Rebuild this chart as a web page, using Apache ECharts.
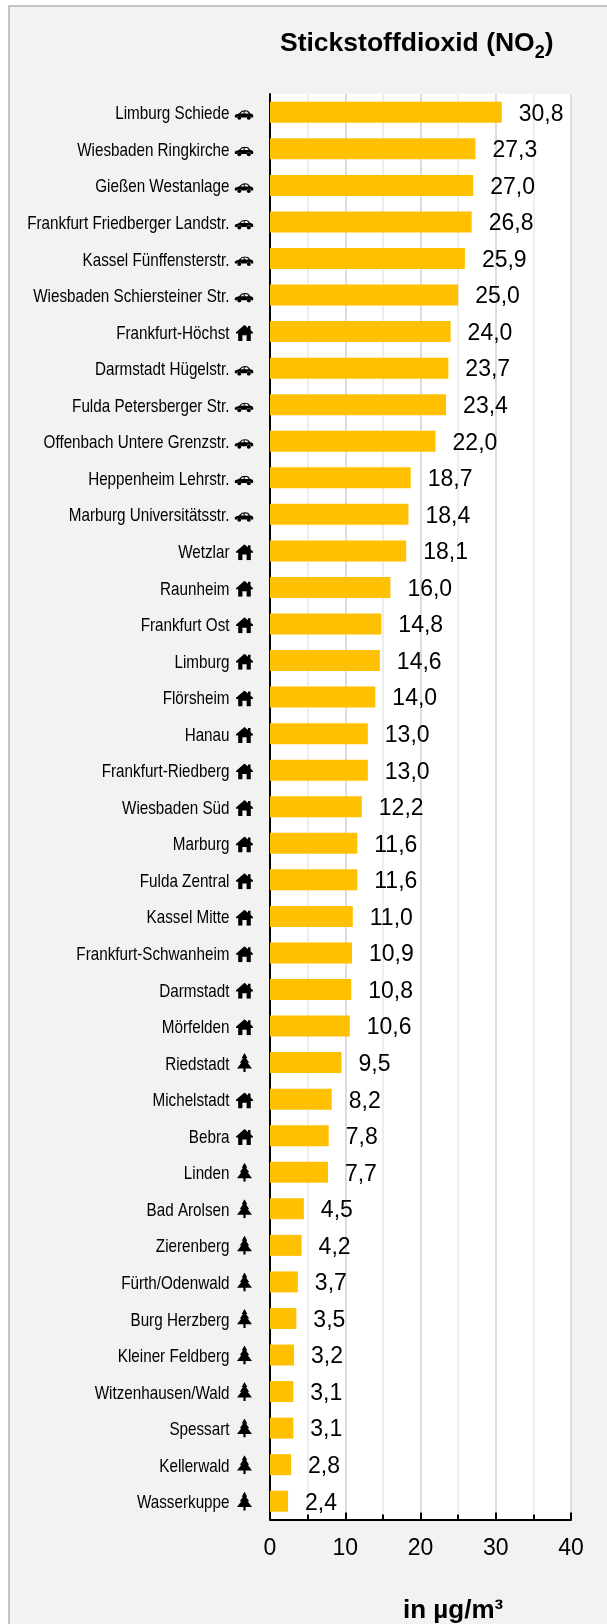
<!DOCTYPE html>
<html>
<head>
<meta charset="utf-8">
<style>
html, body { margin: 0; padding: 0; background: #fff; }
#main { width: 607px; height: 1624px; }
</style>
<script src="https://cdn.jsdelivr.net/npm/echarts@6/dist/echarts.min.js"></script>
</head>
<body>
<div id="main"></div>
<script>
var stations = ['Limburg Schiede', 'Wiesbaden Ringkirche', 'Gießen Westanlage', 'Frankfurt Friedberger Landstr.',
    'Kassel Fünffensterstr.', 'Wiesbaden Schiersteiner Str.', 'Frankfurt-Höchst', 'Darmstadt Hügelstr.',
    'Fulda Petersberger Str.', 'Offenbach Untere Grenzstr.', 'Heppenheim Lehrstr.', 'Marburg Universitätsstr.',
    'Wetzlar', 'Raunheim', 'Frankfurt Ost', 'Limburg', 'Flörsheim', 'Hanau', 'Frankfurt-Riedberg', 'Wiesbaden Süd',
    'Marburg', 'Fulda Zentral', 'Kassel Mitte', 'Frankfurt-Schwanheim', 'Darmstadt', 'Mörfelden', 'Riedstadt',
    'Michelstadt', 'Bebra', 'Linden', 'Bad Arolsen', 'Zierenberg', 'Fürth/Odenwald', 'Burg Herzberg',
    'Kleiner Feldberg', 'Witzenhausen/Wald', 'Spessart', 'Kellerwald', 'Wasserkuppe'];
var stationTypes = ['car', 'car', 'car', 'car', 'car', 'car', 'house', 'car', 'car', 'car', 'car', 'car',
    'house', 'house', 'house', 'house', 'house', 'house', 'house', 'house', 'house', 'house', 'house', 'house',
    'house', 'house', 'tree', 'house', 'house', 'tree', 'tree', 'tree', 'tree', 'tree', 'tree', 'tree', 'tree', 'tree', 'tree'];
var no2Values = [30.8, 27.3, 27.0, 26.8, 25.9, 25.0, 24.0, 23.7, 23.4, 22.0, 18.7, 18.4, 18.1, 16.0, 14.8, 14.6,
    14.0, 13.0, 13.0, 12.2, 11.6, 11.6, 11.0, 10.9, 10.8, 10.6, 9.5, 8.2, 7.8, 7.7, 4.5, 4.2, 3.7, 3.5, 3.2, 3.1, 3.1, 2.8, 2.4];

var baseFont = '"Liberation Sans", Arial, sans-serif';

function svgIcon(w, h, body) {
    return 'data:image/svg+xml,' + encodeURIComponent(
        '<svg xmlns="http://www.w3.org/2000/svg" width="' + w * 4 + '" height="' + h * 4 + '" viewBox="0 0 ' + w + ' ' + h + '">' + body + '</svg>');
}
// icon pictures, with where they sit next to the station name
var icons = {
    car: {
        w: 19, h: 10, dx: 234.5, dy: 2.7,
        image: svgIcon(19, 10, '<path fill-rule="evenodd" d="M0 6C.3 4.6 2 4 4.4 3.5L7.4 .8C9.2 .1 12 .1 13.6 .8L15.8 3.4C17.6 3.7 19 4.4 19 6.2L18.6 7.4H16.6A2.4 2.4 0 0 0 12 7.4H7A2.4 2.4 0 0 0 2.6 7.4H.3Z M6.2 3.4H9.2V1.4C8 1.5 7.4 2 6.2 3.4Z M10.2 3.4H14.2L12.9 1.7C12.1 1.4 11.2 1.4 10.2 1.4Z"/><circle cx="4.8" cy="7.8" r="2"/><circle cx="14.3" cy="7.8" r="2"/>')
    },
    house: {
        w: 17, h: 16, dx: 236, dy: 1.3,
        image: svgIcon(17, 16, '<path d="M8.5 0L12 3V1H14.5V5.1L17 7.4V8.6H14.8V16H10.6V10.4H6.4V16H2.2V8.6H0V7.4Z"/>')
    },
    tree: {
        w: 15, h: 19, dx: 237, dy: 0,
        image: svgIcon(15, 19, '<path d="M7.5 0L10.3 5H9L12.2 9.6H10.6L15 15.4H8.6V19H6.4V15.4H0L4.4 9.6H2.8L6 5H4.7Z"/>')
    }
};

var myChart = echarts.init(document.getElementById('main'));

// station names are squeezed like in the original, so they are drawn here and not as axis labels
function renderStation(params, api) {
    var idx = api.value(1);
    var y = api.coord([0, idx])[1];
    var icon = icons[stationTypes[idx]];
    return {
        type: 'group',
        children: [{
            type: 'text',
            x: 229.5,
            y: y + 2,
            scaleX: 0.823,
            style: {
                text: stations[idx],
                textAlign: 'right',
                textVerticalAlign: 'middle',
                fontSize: 18.5,
                fontFamily: baseFont,
                fill: '#000'
            }
        }, {
            type: 'image',
            style: {
                image: icon.image,
                x: icon.dx,
                y: y + icon.dy - icon.h / 2,
                width: icon.w,
                height: icon.h
            }
        }]
    };
}

myChart.setOption({
    animation: false,
    backgroundColor: '#fff',
    textStyle: { fontFamily: baseFont },
    graphic: [{
        type: 'rect',
        z: -10,
        shape: { x: 9, y: 6, width: 610, height: 1630 },
        style: { fill: '#f2f2f2', stroke: '#c4c4c4', lineWidth: 2 }
    }, {
        type: 'text',
        left: 403,
        top: 1598,
        style: { text: 'in µg/m³', fill: '#000', font: 'bold 26px ' + baseFont }
    }],
    title: {
        text: '{a|Stickstoffdioxid (NO}{b|2}{a|)}',
        left: 275,
        top: 20,
        textStyle: {
            rich: {
                a: { fontSize: 26.5, fontWeight: 'bold', color: '#000', fontFamily: baseFont },
                b: { fontSize: 18, fontWeight: 'bold', color: '#000', padding: [19, 0, 0, 0], fontFamily: baseFont }
            }
        }
    },
    grid: {
        left: 270,
        top: 94,
        width: 301,
        height: 1425.5,
        show: true,
        backgroundColor: '#fff',
        borderWidth: 0
    },
    xAxis: {
        type: 'value',
        min: 0,
        max: 40,
        interval: 10,
        axisLine: { show: true, lineStyle: { color: '#000', width: 2 } },
        axisTick: { show: true, inside: true, length: 7, lineStyle: { color: '#000', width: 2 } },
        minorTick: { show: true, splitNumber: 2, length: 5, lineStyle: { color: '#000', width: 2 } },
        axisLabel: { color: '#000', fontSize: 23, margin: 18 },
        splitLine: { show: true, lineStyle: { color: '#dcdcdc', width: 2 } },
        minorSplitLine: { show: true, lineStyle: { color: '#ededed', width: 2 } }
    },
    yAxis: {
        type: 'category',
        inverse: true,
        data: stations,
        axisLine: { show: true, lineStyle: { color: '#000', width: 2 } },
        axisTick: { show: false },
        splitLine: { show: false },
        axisLabel: { show: false }
    },
    series: [{
        name: 'NO2',
        type: 'bar',
        data: no2Values,
        barWidth: 21,
        itemStyle: { color: '#ffc000' },
        label: {
            show: true,
            position: 'right',
            distance: 17,
            offset: [0, 2],
            color: '#000',
            fontSize: 23,
            formatter: function (p) {
                return p.value.toFixed(1).replace('.', ',');
            }
        }
    }, {
        name: 'Stationen',
        type: 'custom',
        clip: false,
        silent: true,
        renderItem: renderStation,
        encode: { x: 0, y: 1 },
        data: stations.map(function (s, i) { return [0, i]; })
    }]
});
</script>
</body>
</html>
